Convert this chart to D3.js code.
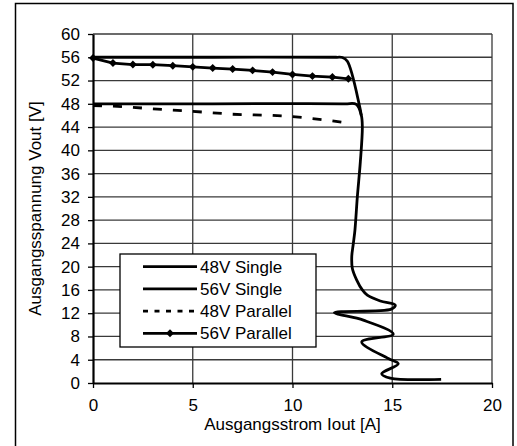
<!DOCTYPE html>
<html>
<head>
<meta charset="utf-8">
<script src="https://cdn.jsdelivr.net/npm/d3@7"></script>
<style>
  body { margin: 0; background: #fff; }
  text { font-family: "Liberation Sans", Arial, sans-serif; fill: #000; }
</style>
</head>
<body>
<div id="chart"></div>
<script>
// output voltage vs output current for four supply configurations
// values

const xTicks = [0, 5, 10, 15, 20]
const yTicks = d3.range(0, 61, 4)

// 48V Single: flat at 48 V, then the long current-limit tail
const cur48Single = [0, 6, 12.6, 13.2, 13.45, 13.5, 13.4, 13.25, 13.13, 13.05, 12.97, 13.0, 13.22, 13.5, 13.75, 14.4, 15.15, 14.95, 12.1, 13.55, 15.05, 13.47, 14.8, 15.3, 14.47, 14.9, 17.45]
const volt48Single = [48, 48, 48, 47.9, 46, 44, 38, 32, 26.3, 24, 21.7, 19.7, 17.7, 16.0, 15.1, 14.1, 13.4, 12.7, 12.1, 10.8, 8.4, 7.07, 4.2, 3.3, 1.6, 0.85, 0.64]

// 56V Single: flat at 56 V then bends down into the 48V curve
const cur56Single = [0, 6, 12.2, 12.5, 12.75, 13.35, 13.45]
const volt56Single = [56, 56, 56, 55.95, 55.3, 47.8, 46]

// 48V Parallel (dashed)
const cur48Parallel = [0, 1, 2, 3, 4, 5, 6, 7, 8, 9, 10, 11, 12, 12.8]
const volt48Parallel = [47.7, 47.6, 47.4, 47.13, 46.9, 46.7, 46.45, 46.2, 46.1, 46.0, 45.8, 45.47, 45.07, 44.67]

// 56V Parallel (with diamond markers)
const cur56Parallel = [0, 1, 2, 3, 4, 5, 6, 7, 8, 9, 10, 11, 12, 12.8]
const volt56Parallel = [55.86, 55.0, 54.75, 54.72, 54.55, 54.35, 54.14, 53.97, 53.74, 53.45, 53.05, 52.76, 52.6, 52.3]

const legendLabels = ["48V Single", "56V Single", "48V Parallel", "56V Parallel"]

const W = 517, H = 446
const plot = { left: 93, right: 492, top: 34, bottom: 383 }

const svg = d3.select("#chart").append("svg")
  .attr("width", W).attr("height", H)

// outer chart frame (bottom edge runs off the picture)
svg.append("rect")
  .attr("x", 15.5).attr("y", 3.5)
  .attr("width", 497.5).attr("height", 460)
  .attr("fill", "none").attr("stroke", "#000").attr("stroke-width", 1.5)

const x = d3.scaleLinear().domain([0, 20]).range([plot.left, plot.right])
const y = d3.scaleLinear().domain([0, 60]).range([plot.bottom, plot.top])

// grid lines
svg.append("g").selectAll("line")
  .data(yTicks.filter(d => d > 0))
  .join("line")
  .attr("x1", plot.left).attr("x2", plot.right)
  .attr("y1", d => y(d)).attr("y2", d => y(d))
  .attr("stroke", "#3a3a3a").attr("stroke-width", 1.3)

svg.append("g").selectAll("line")
  .data(xTicks.filter(d => d > 0))
  .join("line")
  .attr("x1", d => x(d)).attr("x2", d => x(d))
  .attr("y1", plot.top).attr("y2", plot.bottom)
  .attr("stroke", "#3a3a3a").attr("stroke-width", 1.3)

// axes
const yAxis = svg.append("g")
  .attr("transform", `translate(${plot.left},0)`)
  .call(d3.axisLeft(y).tickValues(yTicks).tickSize(5).tickSizeOuter(0).tickPadding(8))
yAxis.select(".domain").attr("stroke", "#000").attr("stroke-width", 2.2)
yAxis.selectAll(".tick line").attr("stroke", "#000").attr("stroke-width", 1.3)
yAxis.selectAll("text").style("font-size", "17px").attr("font-family", null)

const xAxis = svg.append("g")
  .attr("transform", `translate(0,${plot.bottom})`)
  .call(d3.axisBottom(x).tickValues(xTicks).tickSize(5).tickSizeOuter(0).tickPadding(11))
xAxis.select(".domain").attr("stroke", "#000").attr("stroke-width", 2.2)
xAxis.selectAll(".tick line").attr("stroke", "#000").attr("stroke-width", 1.3)
xAxis.selectAll("text").style("font-size", "17px").attr("font-family", null)

// axis titles
svg.append("text")
  .attr("x", (plot.left + plot.right) / 2).attr("y", 430)
  .attr("text-anchor", "middle")
  .style("font-size", "17px")
  .text("Ausgangsstrom Iout [A]")

svg.append("text")
  .attr("transform", "rotate(-90)")
  .attr("x", -(plot.top + plot.bottom) / 2).attr("y", 41)
  .attr("text-anchor", "middle")
  .style("font-size", "17px")
  .text("Ausgangsspannung Vout [V]")

// series
const smooth = d3.line()
  .x(d => x(d[0])).y(d => y(d[1]))
  .curve(d3.curveCatmullRom.alpha(0.5))

const straight = d3.line()
  .x(d => x(d[0])).y(d => y(d[1]))

const series = [
  { pts: d3.zip(cur48Single, volt48Single), gen: smooth, dash: null },
  { pts: d3.zip(cur56Single, volt56Single), gen: smooth, dash: null },
  { pts: d3.zip(cur48Parallel, volt48Parallel), gen: straight, dash: "9,11" },
  { pts: d3.zip(cur56Parallel, volt56Parallel), gen: straight, dash: null }
]

series.forEach(s => {
  svg.append("path")
    .attr("d", s.gen(s.pts))
    .attr("fill", "none").attr("stroke", "#000")
    .attr("stroke-width", 2.8)
    .attr("stroke-linejoin", "round")
    .attr("stroke-dasharray", s.dash)
})

const diamond = d3.symbol().type(d3.symbolDiamond2).size(40)
svg.append("g").selectAll("path")
  .data(d3.zip(cur56Parallel, volt56Parallel))
  .join("path")
  .attr("transform", d => `translate(${x(d[0])},${y(d[1])})`)
  .attr("d", diamond)
  .attr("fill", "#000")

// legend box
const lg = svg.append("g").attr("transform", "translate(120,254)")
lg.append("rect")
  .attr("width", 196).attr("height", 93)
  .attr("fill", "#fff").attr("stroke", "#000").attr("stroke-width", 1.3)

legendLabels.forEach((label, i) => {
  const cy = 12.7 + i * 22.2
  lg.append("line")
    .attr("x1", 23).attr("x2", 77)
    .attr("y1", cy).attr("y2", cy)
    .attr("stroke", "#000").attr("stroke-width", 2.8)
    .attr("stroke-dasharray", i === 2 ? "5,6.5" : null)
  if (i === 3) {
    lg.append("path")
      .attr("transform", `translate(50,${cy})`)
      .attr("d", diamond).attr("fill", "#000")
  }
  lg.append("text")
    .attr("x", 80).attr("y", cy).attr("dy", "0.35em")
    .style("font-size", "17px")
    .text(label)
})
</script>
</body>
</html>
